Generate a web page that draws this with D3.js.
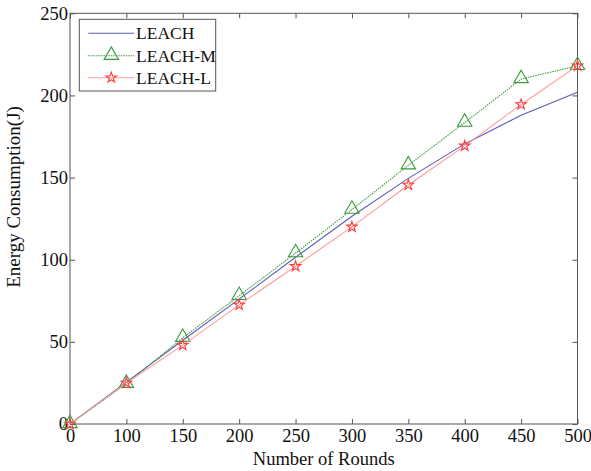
<!DOCTYPE html>
<html>
<head>
<meta charset="utf-8">
<script src="https://cdn.jsdelivr.net/npm/d3@7"></script>
<style>
  html, body { margin: 0; padding: 0; background: #fff; }
  svg { display: block; }
  text { font-family: "Liberation Serif", "Times New Roman", serif; fill: #111; }
</style>
</head>
<body>
<svg id="chart" width="591" height="471"></svg>
<script>
// ---- data ----
const rounds = ["0", "100", "150", "200", "250", "300", "350", "400", "450", "500"];
const leach  = [0, 25.5, 51, 76, 101.5, 126.5, 149.5, 170.5, 188, 202];
const leachM = [0, 24.5, 52.5, 78, 104, 130.5, 157.5, 183.5, 210, 218];
const leachL = [0, 25, 48, 72.5, 96, 120, 145.5, 169.3, 194.5, 218];
const yTicks = [0, 50, 100, 150, 200, 250];
const seriesNames = ["LEACH", "LEACH-M", "LEACH-L"];

// ---- layout ----
const L = 70, R = 577.5, T = 13.3, B = 424;
const svg = d3.select("#chart");
const x = d3.scalePoint().domain(rounds).range([L, R]).padding(0);
const y = d3.scaleLinear().domain([0, 250]).range([B, T]);
const axisColor = "#555";

// axes (inward ticks, box)
const gx = svg.append("g").attr("transform", `translate(0,${B})`)
  .call(d3.axisBottom(x).tickSize(-5).tickPadding(5));
const gxTop = svg.append("g").attr("transform", `translate(0,${T})`)
  .call(d3.axisTop(x).tickSize(-5).tickFormat(""));
const gy = svg.append("g").attr("transform", `translate(${L},0)`)
  .call(d3.axisLeft(y).tickValues(yTicks).tickSize(-5).tickPadding(2));
const gyR = svg.append("g").attr("transform", `translate(${R},0)`)
  .call(d3.axisRight(y).tickValues(yTicks).tickSize(-5).tickFormat(""));
[gx, gxTop, gy, gyR].forEach(g => {
  g.select(".domain").remove();
  g.selectAll(".tick line").attr("stroke", axisColor).attr("stroke-width", 1);
  g.selectAll("text").style("font-family", "'Liberation Serif', serif").style("font-size", "18.5px").attr("fill", "#111");
});
svg.append("rect").attr("x", L).attr("y", T).attr("width", R - L).attr("height", B - T)
  .attr("fill", "none").attr("stroke", axisColor).attr("stroke-width", 1);

// axis titles
svg.append("text").attr("x", (L + R) / 2).attr("y", 465).attr("text-anchor", "middle")
  .style("font-size", "18.5px").text("Number of Rounds");
svg.append("text").attr("transform", "translate(20,197) rotate(-90)").attr("text-anchor", "middle")
  .style("font-size", "19px").text("Energy Consumption(J)");

// series
const series = [
  { name: seriesNames[0], values: leach,  line: "#5b5bb8", dash: null, marker: null },
  { name: seriesNames[1], values: leachM, line: "#3f9f3f", dash: "1.5,1", marker: "tri", mcolor: "#3a9a3a" },
  { name: seriesNames[2], values: leachL, line: "#ff9a9a", dash: null, marker: "star", mcolor: "#ff3b3b" }
];
const lineGen = d3.line().x((d, i) => x(rounds[i])).y(d => y(d));
const triSym = d3.symbol().type(d3.symbolTriangle).size(90);
const starSym = d3.symbol().type(d3.symbolStar).size(34);

function drawMarker(g, s, cx, cy) {
  if (s.marker === "tri") {
    g.append("path").attr("d", triSym()).attr("transform", `translate(${cx},${cy - 0.5})`)
      .attr("fill", "none").attr("stroke", s.mcolor).attr("stroke-width", 1.1);
  } else if (s.marker === "star") {
    g.append("path").attr("d", starSym()).attr("transform", `translate(${cx},${cy})`)
      .attr("fill", "none").attr("stroke", s.mcolor).attr("stroke-width", 1.1);
  }
}

series.forEach(s => {
  const g = svg.append("g");
  g.append("path").datum(s.values).attr("d", lineGen)
    .attr("fill", "none").attr("stroke", s.line).attr("stroke-width", 1.1)
    .attr("stroke-dasharray", s.dash);
  s.values.forEach((v, i) => drawMarker(g, s, x(rounds[i]), y(v)));
});

// legend
const lg = svg.append("g");
lg.append("rect").attr("x", 79.3).attr("y", 19.3).attr("width", 136.4).attr("height", 71.7)
  .attr("fill", "#fff").attr("stroke", axisColor).attr("stroke-width", 1);
const rowsY = [33.3, 55.7, 77.7];
series.forEach((s, i) => {
  const cy = rowsY[i];
  lg.append("line").attr("x1", 88.3).attr("x2", 134.3).attr("y1", cy).attr("y2", cy)
    .attr("stroke", s.line).attr("stroke-width", 1.1).attr("stroke-dasharray", s.dash);
  drawMarker(lg, s, 111.3, cy);
  lg.append("text").attr("x", 136).attr("y", cy + 6).style("font-size", "17.5px").text(s.name);
});
</script>
</body>
</html>
